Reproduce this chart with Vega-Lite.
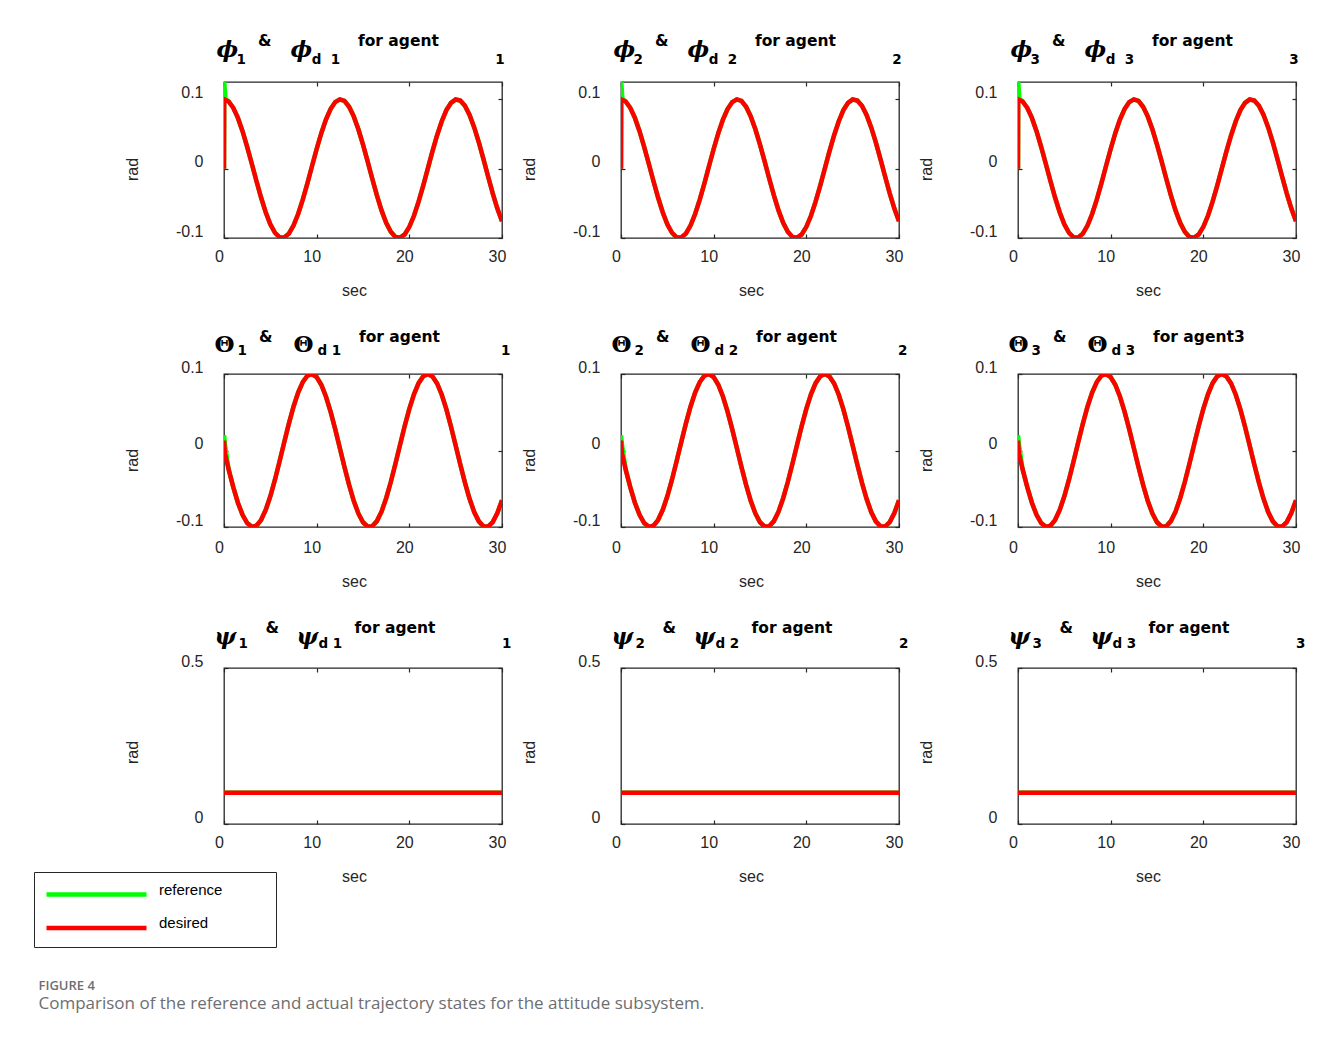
{
"padding": 33,
"spacing": 30,
"title": {"text": "FIGURE 4", "subtitle": "Comparison of the reference and actual trajectory states for the attitude subsystem.", "orient": "bottom", "anchor": "start", "frame": "bounds", "offset": 32, "dx": 5, "font": "Open Sans", "fontSize": 13, "fontWeight": 600, "color": "#6d6e71", "subtitleFont": "Open Sans", "subtitleFontSize": 17, "subtitleFontWeight": "normal", "subtitleColor": "#6d6e71", "subtitlePadding": 3},
"datasets": {
"phi": [
{"t":0,"v":0,"series":"reference"},{"t":0.02,"v":0.125,"series":"reference"},{"t":0.15,"v":0.101,"series":"reference"},
{"t":0.5,"v":0.0969,"series":"reference"},{"t":1,"v":0.0878,"series":"reference"},{"t":1.5,"v":0.0732,"series":"reference"},{"t":2,"v":0.054,"series":"reference"},{"t":2.5,"v":0.0315,"series":"reference"},{"t":3,"v":0.0071,"series":"reference"},{"t":3.5,"v":-0.0178,"series":"reference"},{"t":4,"v":-0.0416,"series":"reference"},{"t":4.5,"v":-0.0628,"series":"reference"},{"t":5,"v":-0.0801,"series":"reference"},{"t":5.5,"v":-0.0924,"series":"reference"},{"t":6,"v":-0.099,"series":"reference"},{"t":6.5,"v":-0.0994,"series":"reference"},{"t":7,"v":-0.0937,"series":"reference"},{"t":7.5,"v":-0.0821,"series":"reference"},{"t":8,"v":-0.0654,"series":"reference"},{"t":8.5,"v":-0.0446,"series":"reference"},{"t":9,"v":-0.0211,"series":"reference"},{"t":9.5,"v":0.0038,"series":"reference"},{"t":10,"v":0.0284,"series":"reference"},{"t":10.5,"v":0.0512,"series":"reference"},{"t":11,"v":0.0709,"series":"reference"},{"t":11.5,"v":0.0861,"series":"reference"},{"t":12,"v":0.096,"series":"reference"},{"t":12.5,"v":0.0999,"series":"reference"},{"t":13,"v":0.0977,"series":"reference"},{"t":13.5,"v":0.0893,"series":"reference"},{"t":14,"v":0.0754,"series":"reference"},{"t":14.5,"v":0.0568,"series":"reference"},{"t":15,"v":0.0347,"series":"reference"},{"t":15.5,"v":0.0104,"series":"reference"},{"t":16,"v":-0.0146,"series":"reference"},{"t":16.5,"v":-0.0385,"series":"reference"},{"t":17,"v":-0.0602,"series":"reference"},{"t":17.5,"v":-0.0782,"series":"reference"},{"t":18,"v":-0.0911,"series":"reference"},{"t":18.5,"v":-0.0985,"series":"reference"},{"t":19,"v":-0.0997,"series":"reference"},{"t":19.5,"v":-0.0948,"series":"reference"},{"t":20,"v":-0.0839,"series":"reference"},{"t":20.5,"v":-0.0679,"series":"reference"},{"t":21,"v":-0.0476,"series":"reference"},{"t":21.5,"v":-0.0243,"series":"reference"},{"t":22,"v":0.0004,"series":"reference"},{"t":22.5,"v":0.0252,"series":"reference"},{"t":23,"v":0.0483,"series":"reference"},{"t":23.5,"v":0.0685,"series":"reference"},{"t":24,"v":0.0844,"series":"reference"},{"t":24.5,"v":0.095,"series":"reference"},{"t":25,"v":0.0998,"series":"reference"},{"t":25.5,"v":0.0983,"series":"reference"},{"t":26,"v":0.0907,"series":"reference"},{"t":26.5,"v":0.0775,"series":"reference"},{"t":27,"v":0.0595,"series":"reference"},{"t":27.5,"v":0.0378,"series":"reference"},{"t":28,"v":0.0137,"series":"reference"},{"t":28.5,"v":-0.0113,"series":"reference"},{"t":29,"v":-0.0355,"series":"reference"},{"t":29.5,"v":-0.0575,"series":"reference"},{"t":30,"v":-0.076,"series":"reference"},
{"t":0,"v":0,"series":"desired"},{"t":0.02,"v":0.1,"series":"desired"},
{"t":0.5,"v":0.0969,"series":"desired"},{"t":1,"v":0.0878,"series":"desired"},{"t":1.5,"v":0.0732,"series":"desired"},{"t":2,"v":0.054,"series":"desired"},{"t":2.5,"v":0.0315,"series":"desired"},{"t":3,"v":0.0071,"series":"desired"},{"t":3.5,"v":-0.0178,"series":"desired"},{"t":4,"v":-0.0416,"series":"desired"},{"t":4.5,"v":-0.0628,"series":"desired"},{"t":5,"v":-0.0801,"series":"desired"},{"t":5.5,"v":-0.0924,"series":"desired"},{"t":6,"v":-0.099,"series":"desired"},{"t":6.5,"v":-0.0994,"series":"desired"},{"t":7,"v":-0.0937,"series":"desired"},{"t":7.5,"v":-0.0821,"series":"desired"},{"t":8,"v":-0.0654,"series":"desired"},{"t":8.5,"v":-0.0446,"series":"desired"},{"t":9,"v":-0.0211,"series":"desired"},{"t":9.5,"v":0.0038,"series":"desired"},{"t":10,"v":0.0284,"series":"desired"},{"t":10.5,"v":0.0512,"series":"desired"},{"t":11,"v":0.0709,"series":"desired"},{"t":11.5,"v":0.0861,"series":"desired"},{"t":12,"v":0.096,"series":"desired"},{"t":12.5,"v":0.0999,"series":"desired"},{"t":13,"v":0.0977,"series":"desired"},{"t":13.5,"v":0.0893,"series":"desired"},{"t":14,"v":0.0754,"series":"desired"},{"t":14.5,"v":0.0568,"series":"desired"},{"t":15,"v":0.0347,"series":"desired"},{"t":15.5,"v":0.0104,"series":"desired"},{"t":16,"v":-0.0146,"series":"desired"},{"t":16.5,"v":-0.0385,"series":"desired"},{"t":17,"v":-0.0602,"series":"desired"},{"t":17.5,"v":-0.0782,"series":"desired"},{"t":18,"v":-0.0911,"series":"desired"},{"t":18.5,"v":-0.0985,"series":"desired"},{"t":19,"v":-0.0997,"series":"desired"},{"t":19.5,"v":-0.0948,"series":"desired"},{"t":20,"v":-0.0839,"series":"desired"},{"t":20.5,"v":-0.0679,"series":"desired"},{"t":21,"v":-0.0476,"series":"desired"},{"t":21.5,"v":-0.0243,"series":"desired"},{"t":22,"v":0.0004,"series":"desired"},{"t":22.5,"v":0.0252,"series":"desired"},{"t":23,"v":0.0483,"series":"desired"},{"t":23.5,"v":0.0685,"series":"desired"},{"t":24,"v":0.0844,"series":"desired"},{"t":24.5,"v":0.095,"series":"desired"},{"t":25,"v":0.0998,"series":"desired"},{"t":25.5,"v":0.0983,"series":"desired"},{"t":26,"v":0.0907,"series":"desired"},{"t":26.5,"v":0.0775,"series":"desired"},{"t":27,"v":0.0595,"series":"desired"},{"t":27.5,"v":0.0378,"series":"desired"},{"t":28,"v":0.0137,"series":"desired"},{"t":28.5,"v":-0.0113,"series":"desired"},{"t":29,"v":-0.0355,"series":"desired"},{"t":29.5,"v":-0.0575,"series":"desired"},{"t":30,"v":-0.076,"series":"desired"}
],
"theta": [
{"t":0,"v":0.02,"series":"reference"},{"t":0.1,"v":0.008,"series":"reference"},
{"t":0.5,"v":-0.0247,"series":"reference"},{"t":1,"v":-0.0479,"series":"reference"},{"t":1.5,"v":-0.0682,"series":"reference"},{"t":2,"v":-0.0842,"series":"reference"},{"t":2.5,"v":-0.0949,"series":"reference"},{"t":3,"v":-0.0998,"series":"reference"},{"t":3.5,"v":-0.0984,"series":"reference"},{"t":4,"v":-0.0909,"series":"reference"},{"t":4.5,"v":-0.0778,"series":"reference"},{"t":5,"v":-0.0599,"series":"reference"},{"t":5.5,"v":-0.0382,"series":"reference"},{"t":6,"v":-0.0141,"series":"reference"},{"t":6.5,"v":0.0108,"series":"reference"},{"t":7,"v":0.0351,"series":"reference"},{"t":7.5,"v":0.0572,"series":"reference"},{"t":8,"v":0.0757,"series":"reference"},{"t":8.5,"v":0.0895,"series":"reference"},{"t":9,"v":0.0978,"series":"reference"},{"t":9.5,"v":0.0999,"series":"reference"},{"t":10,"v":0.0959,"series":"reference"},{"t":10.5,"v":0.0859,"series":"reference"},{"t":11,"v":0.0706,"series":"reference"},{"t":11.5,"v":0.0508,"series":"reference"},{"t":12,"v":0.0279,"series":"reference"},{"t":12.5,"v":0.0033,"series":"reference"},{"t":13,"v":-0.0215,"series":"reference"},{"t":13.5,"v":-0.045,"series":"reference"},{"t":14,"v":-0.0657,"series":"reference"},{"t":14.5,"v":-0.0823,"series":"reference"},{"t":15,"v":-0.0938,"series":"reference"},{"t":15.5,"v":-0.0995,"series":"reference"},{"t":16,"v":-0.0989,"series":"reference"},{"t":16.5,"v":-0.0923,"series":"reference"},{"t":17,"v":-0.0799,"series":"reference"},{"t":17.5,"v":-0.0624,"series":"reference"},{"t":18,"v":-0.0412,"series":"reference"},{"t":18.5,"v":-0.0174,"series":"reference"},{"t":19,"v":0.0075,"series":"reference"},{"t":19.5,"v":0.032,"series":"reference"},{"t":20,"v":0.0544,"series":"reference"},{"t":20.5,"v":0.0735,"series":"reference"},{"t":21,"v":0.088,"series":"reference"},{"t":21.5,"v":0.097,"series":"reference"},{"t":22,"v":0.1,"series":"reference"},{"t":22.5,"v":0.0968,"series":"reference"},{"t":23,"v":0.0876,"series":"reference"},{"t":23.5,"v":0.0729,"series":"reference"},{"t":24,"v":0.0537,"series":"reference"},{"t":24.5,"v":0.0311,"series":"reference"},{"t":25,"v":0.0066,"series":"reference"},{"t":25.5,"v":-0.0183,"series":"reference"},{"t":26,"v":-0.042,"series":"reference"},{"t":26.5,"v":-0.0632,"series":"reference"},{"t":27,"v":-0.0804,"series":"reference"},{"t":27.5,"v":-0.0926,"series":"reference"},{"t":28,"v":-0.0991,"series":"reference"},{"t":28.5,"v":-0.0994,"series":"reference"},{"t":29,"v":-0.0935,"series":"reference"},{"t":29.5,"v":-0.0818,"series":"reference"},{"t":30,"v":-0.065,"series":"reference"},
{"t":0,"v":0.013,"series":"desired"},{"t":0.1,"v":-0.004,"series":"desired"},
{"t":0.5,"v":-0.0247,"series":"desired"},{"t":1,"v":-0.0479,"series":"desired"},{"t":1.5,"v":-0.0682,"series":"desired"},{"t":2,"v":-0.0842,"series":"desired"},{"t":2.5,"v":-0.0949,"series":"desired"},{"t":3,"v":-0.0998,"series":"desired"},{"t":3.5,"v":-0.0984,"series":"desired"},{"t":4,"v":-0.0909,"series":"desired"},{"t":4.5,"v":-0.0778,"series":"desired"},{"t":5,"v":-0.0599,"series":"desired"},{"t":5.5,"v":-0.0382,"series":"desired"},{"t":6,"v":-0.0141,"series":"desired"},{"t":6.5,"v":0.0108,"series":"desired"},{"t":7,"v":0.0351,"series":"desired"},{"t":7.5,"v":0.0572,"series":"desired"},{"t":8,"v":0.0757,"series":"desired"},{"t":8.5,"v":0.0895,"series":"desired"},{"t":9,"v":0.0978,"series":"desired"},{"t":9.5,"v":0.0999,"series":"desired"},{"t":10,"v":0.0959,"series":"desired"},{"t":10.5,"v":0.0859,"series":"desired"},{"t":11,"v":0.0706,"series":"desired"},{"t":11.5,"v":0.0508,"series":"desired"},{"t":12,"v":0.0279,"series":"desired"},{"t":12.5,"v":0.0033,"series":"desired"},{"t":13,"v":-0.0215,"series":"desired"},{"t":13.5,"v":-0.045,"series":"desired"},{"t":14,"v":-0.0657,"series":"desired"},{"t":14.5,"v":-0.0823,"series":"desired"},{"t":15,"v":-0.0938,"series":"desired"},{"t":15.5,"v":-0.0995,"series":"desired"},{"t":16,"v":-0.0989,"series":"desired"},{"t":16.5,"v":-0.0923,"series":"desired"},{"t":17,"v":-0.0799,"series":"desired"},{"t":17.5,"v":-0.0624,"series":"desired"},{"t":18,"v":-0.0412,"series":"desired"},{"t":18.5,"v":-0.0174,"series":"desired"},{"t":19,"v":0.0075,"series":"desired"},{"t":19.5,"v":0.032,"series":"desired"},{"t":20,"v":0.0544,"series":"desired"},{"t":20.5,"v":0.0735,"series":"desired"},{"t":21,"v":0.088,"series":"desired"},{"t":21.5,"v":0.097,"series":"desired"},{"t":22,"v":0.1,"series":"desired"},{"t":22.5,"v":0.0968,"series":"desired"},{"t":23,"v":0.0876,"series":"desired"},{"t":23.5,"v":0.0729,"series":"desired"},{"t":24,"v":0.0537,"series":"desired"},{"t":24.5,"v":0.0311,"series":"desired"},{"t":25,"v":0.0066,"series":"desired"},{"t":25.5,"v":-0.0183,"series":"desired"},{"t":26,"v":-0.042,"series":"desired"},{"t":26.5,"v":-0.0632,"series":"desired"},{"t":27,"v":-0.0804,"series":"desired"},{"t":27.5,"v":-0.0926,"series":"desired"},{"t":28,"v":-0.0991,"series":"desired"},{"t":28.5,"v":-0.0994,"series":"desired"},{"t":29,"v":-0.0935,"series":"desired"},{"t":29.5,"v":-0.0818,"series":"desired"},{"t":30,"v":-0.065,"series":"desired"}
],
"psi": [
{"t":0,"v":0.1,"series":"reference"},{"t":10,"v":0.1,"series":"reference"},{"t":20,"v":0.1,"series":"reference"},{"t":30,"v":0.1,"series":"reference"},
{"t":0,"v":0.1,"series":"desired"},{"t":10,"v":0.1,"series":"desired"},{"t":20,"v":0.1,"series":"desired"},{"t":30,"v":0.1,"series":"desired"}
]
},
"vconcat": [
{"spacing": 13, "hconcat": [
{"width":278,"height":156,"data":{"name":"phi"},
"title":{"text":"\u200b\u00a0\u00a0\u00a0\u00a0&\u00a0\u00a0\u00a0\u00a0\u00a0\u00a0\u00a0\u00a0\u00a0\u00a0\u00a0\u00a0\u00a0\u00a0\u00a0\u00a0for agent","subtitle":"1\u00a0\u00a0\u00a0\u00a0\u00a0\u00a0\u00a0\u00a0\u00a0\u00a0\u00a0\u00a0\u00a0\u00a0d\u00a0\u00a01\u00a0\u00a0\u00a0\u00a0\u00a0\u00a0\u00a0\u00a0\u00a0\u00a0\u00a0\u00a0\u00a0\u00a0\u00a0\u00a0\u00a0\u00a0\u00a0\u00a0\u00a0\u00a0\u00a0\u00a0\u00a0\u00a0\u00a0\u00a0\u00a0\u00a0\u00a0\u00a0\u00a01","anchor":"start","frame":"group","dx":12.5,"offset":-28,"font":"DejaVu Sans","fontSize":15.5,"fontWeight":"bold","color":"#000000","subtitleFont":"DejaVu Sans","subtitleFontSize":13.5,"subtitleFontWeight":"bold","subtitleColor":"#000000","subtitlePadding":3},
"layer":[
{"transform":[{"filter":"datum.series === 'reference'"}],"mark":{"type":"line","strokeWidth":4.5,"clip":true},
"encoding":{
"x":{"field":"t","type":"quantitative","scale":{"domain":[0,30],"nice":false,"zero":false},"axis":{"orient":"bottom","values":[0,10,20,30],"labelExpr":"'' + datum.value","labelFlush":false,"labelOverlap":false,"labelPadding":14,"labelOffset":-5,"title":"sec","titleX":130,"titleY":52,"titleAlign":"center","titleBaseline":"middle","titleAngle":0}},
"y":{"field":"v","type":"quantitative","scale":{"domain":[-0.1,0.125],"nice":false,"zero":false},"axis":{"orient":"left","values":[-0.1,0,0.1],"labelExpr":"'' + datum.value","labelFlush":false,"labelOverlap":false,"labelPadding":25,"labelOffset":-7,"title":"rad","titleX":-92,"titleY":87,"titleAngle":-90,"titleAlign":"center","titleBaseline":"middle"}},
"color":{"field":"series","type":"nominal","scale":{"domain":["reference","desired"],"range":["#00ff00","#ff0000"]},"legend":{"orient":"none","legendX":-190,"legendY":790,"title":"\u200b\u00a0\u00a0\u00a0\u00a0\u00a0\u00a0\u00a0\u00a0\u00a0\u00a0\u00a0\u00a0\u00a0\u00a0\u200b","titleOrient":"right","titleFont":"Liberation Sans","titleFontSize":10,"titlePadding":5,"symbolType":"M-1,0H9","symbolSize":400,"symbolStrokeWidth":4.5,"labelOffset":90,"labelFont":"Liberation Sans","labelFontSize":15,"labelColor":"#000000","labelBaseline":"alphabetic","padding":10,"rowPadding":11.5,"strokeColor":"#262626","fillColor":"#ffffff"}}}},
{"transform":[{"filter":"datum.series === 'desired'"}],"mark":{"type":"line","strokeWidth":4.5,"clip":true},
"encoding":{
"x":{"field":"t","type":"quantitative","scale":{"domain":[0,30],"nice":false,"zero":false},"axis":{"orient":"top","values":[0,10,20,30],"labels":false,"title":"\u03d5","titleX":-8,"titleY":-26,"titleAlign":"left","titleBaseline":"alphabetic","titleAngle":0,"titleFont":"DejaVu Serif","titleFontSize":23,"titleFontWeight":"bold","titleFontStyle":"italic","titleColor":"#000000"}},
"y":{"field":"v","type":"quantitative","scale":{"domain":[-0.1,0.125],"nice":false,"zero":false},"axis":{"orient":"right","values":[-0.1,0,0.1],"labels":false,"title":"\u03d5","titleX":-212,"titleY":-26,"titleAlign":"left","titleBaseline":"alphabetic","titleAngle":0,"titleFont":"DejaVu Serif","titleFontSize":23,"titleFontWeight":"bold","titleFontStyle":"italic","titleColor":"#000000"}},
"color":{"field":"series","type":"nominal","scale":{"domain":["reference","desired"],"range":["#00ff00","#ff0000"]},"legend":{"orient":"none","legendX":-190,"legendY":790,"title":"\u200b\u00a0\u00a0\u00a0\u00a0\u00a0\u00a0\u00a0\u00a0\u00a0\u00a0\u00a0\u00a0\u00a0\u00a0\u200b","titleOrient":"right","titleFont":"Liberation Sans","titleFontSize":10,"titlePadding":5,"symbolType":"M-1,0H9","symbolSize":400,"symbolStrokeWidth":4.5,"labelOffset":90,"labelFont":"Liberation Sans","labelFontSize":15,"labelColor":"#000000","labelBaseline":"alphabetic","padding":10,"rowPadding":11.5,"strokeColor":"#262626","fillColor":"#ffffff"}}}}
],
"resolve":{"axis":{"x":"independent","y":"independent"}}},
{"width":278,"height":156,"data":{"name":"phi"},
"title":{"text":"\u200b\u00a0\u00a0\u00a0\u00a0&\u00a0\u00a0\u00a0\u00a0\u00a0\u00a0\u00a0\u00a0\u00a0\u00a0\u00a0\u00a0\u00a0\u00a0\u00a0\u00a0for agent","subtitle":"2\u00a0\u00a0\u00a0\u00a0\u00a0\u00a0\u00a0\u00a0\u00a0\u00a0\u00a0\u00a0\u00a0\u00a0d\u00a0\u00a02\u00a0\u00a0\u00a0\u00a0\u00a0\u00a0\u00a0\u00a0\u00a0\u00a0\u00a0\u00a0\u00a0\u00a0\u00a0\u00a0\u00a0\u00a0\u00a0\u00a0\u00a0\u00a0\u00a0\u00a0\u00a0\u00a0\u00a0\u00a0\u00a0\u00a0\u00a0\u00a0\u00a02","anchor":"start","frame":"group","dx":12.5,"offset":-28,"font":"DejaVu Sans","fontSize":15.5,"fontWeight":"bold","color":"#000000","subtitleFont":"DejaVu Sans","subtitleFontSize":13.5,"subtitleFontWeight":"bold","subtitleColor":"#000000","subtitlePadding":3},
"layer":[
{"transform":[{"filter":"datum.series === 'reference'"}],"mark":{"type":"line","strokeWidth":4.5,"clip":true},
"encoding":{
"x":{"field":"t","type":"quantitative","scale":{"domain":[0,30],"nice":false,"zero":false},"axis":{"orient":"bottom","values":[0,10,20,30],"labelExpr":"'' + datum.value","labelFlush":false,"labelOverlap":false,"labelPadding":14,"labelOffset":-5,"title":"sec","titleX":130,"titleY":52,"titleAlign":"center","titleBaseline":"middle","titleAngle":0}},
"y":{"field":"v","type":"quantitative","scale":{"domain":[-0.1,0.125],"nice":false,"zero":false},"axis":{"orient":"left","values":[-0.1,0,0.1],"labelExpr":"'' + datum.value","labelFlush":false,"labelOverlap":false,"labelPadding":25,"labelOffset":-7,"title":"rad","titleX":-92,"titleY":87,"titleAngle":-90,"titleAlign":"center","titleBaseline":"middle"}},
"color":{"field":"series","type":"nominal","scale":{"domain":["reference","desired"],"range":["#00ff00","#ff0000"]},"legend":{"orient":"none","legendX":-190,"legendY":790,"title":"\u200b\u00a0\u00a0\u00a0\u00a0\u00a0\u00a0\u00a0\u00a0\u00a0\u00a0\u00a0\u00a0\u00a0\u00a0\u200b","titleOrient":"right","titleFont":"Liberation Sans","titleFontSize":10,"titlePadding":5,"symbolType":"M-1,0H9","symbolSize":400,"symbolStrokeWidth":4.5,"labelOffset":90,"labelFont":"Liberation Sans","labelFontSize":15,"labelColor":"#000000","labelBaseline":"alphabetic","padding":10,"rowPadding":11.5,"strokeColor":"#262626","fillColor":"#ffffff"}}}},
{"transform":[{"filter":"datum.series === 'desired'"}],"mark":{"type":"line","strokeWidth":4.5,"clip":true},
"encoding":{
"x":{"field":"t","type":"quantitative","scale":{"domain":[0,30],"nice":false,"zero":false},"axis":{"orient":"top","values":[0,10,20,30],"labels":false,"title":"\u03d5","titleX":-8,"titleY":-26,"titleAlign":"left","titleBaseline":"alphabetic","titleAngle":0,"titleFont":"DejaVu Serif","titleFontSize":23,"titleFontWeight":"bold","titleFontStyle":"italic","titleColor":"#000000"}},
"y":{"field":"v","type":"quantitative","scale":{"domain":[-0.1,0.125],"nice":false,"zero":false},"axis":{"orient":"right","values":[-0.1,0,0.1],"labels":false,"title":"\u03d5","titleX":-212,"titleY":-26,"titleAlign":"left","titleBaseline":"alphabetic","titleAngle":0,"titleFont":"DejaVu Serif","titleFontSize":23,"titleFontWeight":"bold","titleFontStyle":"italic","titleColor":"#000000"}},
"color":{"field":"series","type":"nominal","scale":{"domain":["reference","desired"],"range":["#00ff00","#ff0000"]},"legend":{"orient":"none","legendX":-190,"legendY":790,"title":"\u200b\u00a0\u00a0\u00a0\u00a0\u00a0\u00a0\u00a0\u00a0\u00a0\u00a0\u00a0\u00a0\u00a0\u00a0\u200b","titleOrient":"right","titleFont":"Liberation Sans","titleFontSize":10,"titlePadding":5,"symbolType":"M-1,0H9","symbolSize":400,"symbolStrokeWidth":4.5,"labelOffset":90,"labelFont":"Liberation Sans","labelFontSize":15,"labelColor":"#000000","labelBaseline":"alphabetic","padding":10,"rowPadding":11.5,"strokeColor":"#262626","fillColor":"#ffffff"}}}}
],
"resolve":{"axis":{"x":"independent","y":"independent"}}},
{"width":278,"height":156,"data":{"name":"phi"},
"title":{"text":"\u200b\u00a0\u00a0\u00a0\u00a0&\u00a0\u00a0\u00a0\u00a0\u00a0\u00a0\u00a0\u00a0\u00a0\u00a0\u00a0\u00a0\u00a0\u00a0\u00a0\u00a0for agent","subtitle":"3\u00a0\u00a0\u00a0\u00a0\u00a0\u00a0\u00a0\u00a0\u00a0\u00a0\u00a0\u00a0\u00a0\u00a0d\u00a0\u00a03\u00a0\u00a0\u00a0\u00a0\u00a0\u00a0\u00a0\u00a0\u00a0\u00a0\u00a0\u00a0\u00a0\u00a0\u00a0\u00a0\u00a0\u00a0\u00a0\u00a0\u00a0\u00a0\u00a0\u00a0\u00a0\u00a0\u00a0\u00a0\u00a0\u00a0\u00a0\u00a0\u00a03","anchor":"start","frame":"group","dx":12.5,"offset":-28,"font":"DejaVu Sans","fontSize":15.5,"fontWeight":"bold","color":"#000000","subtitleFont":"DejaVu Sans","subtitleFontSize":13.5,"subtitleFontWeight":"bold","subtitleColor":"#000000","subtitlePadding":3},
"layer":[
{"transform":[{"filter":"datum.series === 'reference'"}],"mark":{"type":"line","strokeWidth":4.5,"clip":true},
"encoding":{
"x":{"field":"t","type":"quantitative","scale":{"domain":[0,30],"nice":false,"zero":false},"axis":{"orient":"bottom","values":[0,10,20,30],"labelExpr":"'' + datum.value","labelFlush":false,"labelOverlap":false,"labelPadding":14,"labelOffset":-5,"title":"sec","titleX":130,"titleY":52,"titleAlign":"center","titleBaseline":"middle","titleAngle":0}},
"y":{"field":"v","type":"quantitative","scale":{"domain":[-0.1,0.125],"nice":false,"zero":false},"axis":{"orient":"left","values":[-0.1,0,0.1],"labelExpr":"'' + datum.value","labelFlush":false,"labelOverlap":false,"labelPadding":25,"labelOffset":-7,"title":"rad","titleX":-92,"titleY":87,"titleAngle":-90,"titleAlign":"center","titleBaseline":"middle"}},
"color":{"field":"series","type":"nominal","scale":{"domain":["reference","desired"],"range":["#00ff00","#ff0000"]},"legend":{"orient":"none","legendX":-190,"legendY":790,"title":"\u200b\u00a0\u00a0\u00a0\u00a0\u00a0\u00a0\u00a0\u00a0\u00a0\u00a0\u00a0\u00a0\u00a0\u00a0\u200b","titleOrient":"right","titleFont":"Liberation Sans","titleFontSize":10,"titlePadding":5,"symbolType":"M-1,0H9","symbolSize":400,"symbolStrokeWidth":4.5,"labelOffset":90,"labelFont":"Liberation Sans","labelFontSize":15,"labelColor":"#000000","labelBaseline":"alphabetic","padding":10,"rowPadding":11.5,"strokeColor":"#262626","fillColor":"#ffffff"}}}},
{"transform":[{"filter":"datum.series === 'desired'"}],"mark":{"type":"line","strokeWidth":4.5,"clip":true},
"encoding":{
"x":{"field":"t","type":"quantitative","scale":{"domain":[0,30],"nice":false,"zero":false},"axis":{"orient":"top","values":[0,10,20,30],"labels":false,"title":"\u03d5","titleX":-8,"titleY":-26,"titleAlign":"left","titleBaseline":"alphabetic","titleAngle":0,"titleFont":"DejaVu Serif","titleFontSize":23,"titleFontWeight":"bold","titleFontStyle":"italic","titleColor":"#000000"}},
"y":{"field":"v","type":"quantitative","scale":{"domain":[-0.1,0.125],"nice":false,"zero":false},"axis":{"orient":"right","values":[-0.1,0,0.1],"labels":false,"title":"\u03d5","titleX":-212,"titleY":-26,"titleAlign":"left","titleBaseline":"alphabetic","titleAngle":0,"titleFont":"DejaVu Serif","titleFontSize":23,"titleFontWeight":"bold","titleFontStyle":"italic","titleColor":"#000000"}},
"color":{"field":"series","type":"nominal","scale":{"domain":["reference","desired"],"range":["#00ff00","#ff0000"]},"legend":{"orient":"none","legendX":-190,"legendY":790,"title":"\u200b\u00a0\u00a0\u00a0\u00a0\u00a0\u00a0\u00a0\u00a0\u00a0\u00a0\u00a0\u00a0\u00a0\u00a0\u200b","titleOrient":"right","titleFont":"Liberation Sans","titleFontSize":10,"titlePadding":5,"symbolType":"M-1,0H9","symbolSize":400,"symbolStrokeWidth":4.5,"labelOffset":90,"labelFont":"Liberation Sans","labelFontSize":15,"labelColor":"#000000","labelBaseline":"alphabetic","padding":10,"rowPadding":11.5,"strokeColor":"#262626","fillColor":"#ffffff"}}}}
],
"resolve":{"axis":{"x":"independent","y":"independent"}}}
]},
{"spacing": 9, "hconcat": [
{"width":278,"height":153,"data":{"name":"theta"},
"title":{"text":"\u200b\u00a0\u00a0\u00a0\u00a0&\u00a0\u00a0\u00a0\u00a0\u00a0\u00a0\u00a0\u00a0\u00a0\u00a0\u00a0\u00a0\u00a0\u00a0\u00a0\u00a0for agent","subtitle":"1\u00a0\u00a0\u00a0\u00a0\u00a0\u00a0\u00a0\u00a0\u00a0\u00a0\u00a0\u00a0\u00a0\u00a0\u00a0d\u00a01\u00a0\u00a0\u00a0\u00a0\u00a0\u00a0\u00a0\u00a0\u00a0\u00a0\u00a0\u00a0\u00a0\u00a0\u00a0\u00a0\u00a0\u00a0\u00a0\u00a0\u00a0\u00a0\u00a0\u00a0\u00a0\u00a0\u00a0\u00a0\u00a0\u00a0\u00a0\u00a0\u00a0\u00a01","anchor":"start","frame":"group","dx":13.5,"offset":-24,"font":"DejaVu Sans","fontSize":15.5,"fontWeight":"bold","color":"#000000","subtitleFont":"DejaVu Sans","subtitleFontSize":13.5,"subtitleFontWeight":"bold","subtitleColor":"#000000","subtitlePadding":-2},
"layer":[
{"transform":[{"filter":"datum.series === 'reference'"}],"mark":{"type":"line","strokeWidth":4.5,"clip":true},
"encoding":{
"x":{"field":"t","type":"quantitative","scale":{"domain":[0,30],"nice":false,"zero":false},"axis":{"orient":"bottom","values":[0,10,20,30],"labelExpr":"'' + datum.value","labelFlush":false,"labelOverlap":false,"labelPadding":16,"labelOffset":-5,"title":"sec","titleX":130,"titleY":54,"titleAlign":"center","titleBaseline":"middle","titleAngle":0}},
"y":{"field":"v","type":"quantitative","scale":{"domain":[-0.1,0.1],"nice":false,"zero":false},"axis":{"orient":"left","values":[-0.1,0,0.1],"labelExpr":"'' + datum.value","labelFlush":false,"labelOverlap":false,"labelPadding":25,"labelOffset":-7,"title":"rad","titleX":-92,"titleY":86,"titleAngle":-90,"titleAlign":"center","titleBaseline":"middle"}},
"color":{"field":"series","type":"nominal","scale":{"domain":["reference","desired"],"range":["#00ff00","#ff0000"]},"legend":{"orient":"none","legendX":-190,"legendY":790,"title":"\u200b\u00a0\u00a0\u00a0\u00a0\u00a0\u00a0\u00a0\u00a0\u00a0\u00a0\u00a0\u00a0\u00a0\u00a0\u200b","titleOrient":"right","titleFont":"Liberation Sans","titleFontSize":10,"titlePadding":5,"symbolType":"M-1,0H9","symbolSize":400,"symbolStrokeWidth":4.5,"labelOffset":90,"labelFont":"Liberation Sans","labelFontSize":15,"labelColor":"#000000","labelBaseline":"alphabetic","padding":10,"rowPadding":11.5,"strokeColor":"#262626","fillColor":"#ffffff"}}}},
{"transform":[{"filter":"datum.series === 'desired'"}],"mark":{"type":"line","strokeWidth":4.5,"clip":true},
"encoding":{
"x":{"field":"t","type":"quantitative","scale":{"domain":[0,30],"nice":false,"zero":false},"axis":{"orient":"top","values":[0,10,20,30],"labels":false,"title":"\u0398","titleX":-10,"titleY":-23,"titleAlign":"left","titleBaseline":"alphabetic","titleAngle":0,"titleFont":"DejaVu Serif","titleFontSize":23,"titleFontWeight":"bold","titleFontStyle":"normal","titleColor":"#000000"}},
"y":{"field":"v","type":"quantitative","scale":{"domain":[-0.1,0.1],"nice":false,"zero":false},"axis":{"orient":"right","values":[-0.1,0,0.1],"labels":false,"title":"\u0398","titleX":-209,"titleY":-23,"titleAlign":"left","titleBaseline":"alphabetic","titleAngle":0,"titleFont":"DejaVu Serif","titleFontSize":23,"titleFontWeight":"bold","titleFontStyle":"normal","titleColor":"#000000"}},
"color":{"field":"series","type":"nominal","scale":{"domain":["reference","desired"],"range":["#00ff00","#ff0000"]},"legend":{"orient":"none","legendX":-190,"legendY":790,"title":"\u200b\u00a0\u00a0\u00a0\u00a0\u00a0\u00a0\u00a0\u00a0\u00a0\u00a0\u00a0\u00a0\u00a0\u00a0\u200b","titleOrient":"right","titleFont":"Liberation Sans","titleFontSize":10,"titlePadding":5,"symbolType":"M-1,0H9","symbolSize":400,"symbolStrokeWidth":4.5,"labelOffset":90,"labelFont":"Liberation Sans","labelFontSize":15,"labelColor":"#000000","labelBaseline":"alphabetic","padding":10,"rowPadding":11.5,"strokeColor":"#262626","fillColor":"#ffffff"}}}}
],
"resolve":{"axis":{"x":"independent","y":"independent"}}},
{"width":278,"height":153,"data":{"name":"theta"},
"title":{"text":"\u200b\u00a0\u00a0\u00a0\u00a0&\u00a0\u00a0\u00a0\u00a0\u00a0\u00a0\u00a0\u00a0\u00a0\u00a0\u00a0\u00a0\u00a0\u00a0\u00a0\u00a0for agent","subtitle":"2\u00a0\u00a0\u00a0\u00a0\u00a0\u00a0\u00a0\u00a0\u00a0\u00a0\u00a0\u00a0\u00a0\u00a0\u00a0d\u00a02\u00a0\u00a0\u00a0\u00a0\u00a0\u00a0\u00a0\u00a0\u00a0\u00a0\u00a0\u00a0\u00a0\u00a0\u00a0\u00a0\u00a0\u00a0\u00a0\u00a0\u00a0\u00a0\u00a0\u00a0\u00a0\u00a0\u00a0\u00a0\u00a0\u00a0\u00a0\u00a0\u00a0\u00a02","anchor":"start","frame":"group","dx":13.5,"offset":-24,"font":"DejaVu Sans","fontSize":15.5,"fontWeight":"bold","color":"#000000","subtitleFont":"DejaVu Sans","subtitleFontSize":13.5,"subtitleFontWeight":"bold","subtitleColor":"#000000","subtitlePadding":-2},
"layer":[
{"transform":[{"filter":"datum.series === 'reference'"}],"mark":{"type":"line","strokeWidth":4.5,"clip":true},
"encoding":{
"x":{"field":"t","type":"quantitative","scale":{"domain":[0,30],"nice":false,"zero":false},"axis":{"orient":"bottom","values":[0,10,20,30],"labelExpr":"'' + datum.value","labelFlush":false,"labelOverlap":false,"labelPadding":16,"labelOffset":-5,"title":"sec","titleX":130,"titleY":54,"titleAlign":"center","titleBaseline":"middle","titleAngle":0}},
"y":{"field":"v","type":"quantitative","scale":{"domain":[-0.1,0.1],"nice":false,"zero":false},"axis":{"orient":"left","values":[-0.1,0,0.1],"labelExpr":"'' + datum.value","labelFlush":false,"labelOverlap":false,"labelPadding":25,"labelOffset":-7,"title":"rad","titleX":-92,"titleY":86,"titleAngle":-90,"titleAlign":"center","titleBaseline":"middle"}},
"color":{"field":"series","type":"nominal","scale":{"domain":["reference","desired"],"range":["#00ff00","#ff0000"]},"legend":{"orient":"none","legendX":-190,"legendY":790,"title":"\u200b\u00a0\u00a0\u00a0\u00a0\u00a0\u00a0\u00a0\u00a0\u00a0\u00a0\u00a0\u00a0\u00a0\u00a0\u200b","titleOrient":"right","titleFont":"Liberation Sans","titleFontSize":10,"titlePadding":5,"symbolType":"M-1,0H9","symbolSize":400,"symbolStrokeWidth":4.5,"labelOffset":90,"labelFont":"Liberation Sans","labelFontSize":15,"labelColor":"#000000","labelBaseline":"alphabetic","padding":10,"rowPadding":11.5,"strokeColor":"#262626","fillColor":"#ffffff"}}}},
{"transform":[{"filter":"datum.series === 'desired'"}],"mark":{"type":"line","strokeWidth":4.5,"clip":true},
"encoding":{
"x":{"field":"t","type":"quantitative","scale":{"domain":[0,30],"nice":false,"zero":false},"axis":{"orient":"top","values":[0,10,20,30],"labels":false,"title":"\u0398","titleX":-10,"titleY":-23,"titleAlign":"left","titleBaseline":"alphabetic","titleAngle":0,"titleFont":"DejaVu Serif","titleFontSize":23,"titleFontWeight":"bold","titleFontStyle":"normal","titleColor":"#000000"}},
"y":{"field":"v","type":"quantitative","scale":{"domain":[-0.1,0.1],"nice":false,"zero":false},"axis":{"orient":"right","values":[-0.1,0,0.1],"labels":false,"title":"\u0398","titleX":-209,"titleY":-23,"titleAlign":"left","titleBaseline":"alphabetic","titleAngle":0,"titleFont":"DejaVu Serif","titleFontSize":23,"titleFontWeight":"bold","titleFontStyle":"normal","titleColor":"#000000"}},
"color":{"field":"series","type":"nominal","scale":{"domain":["reference","desired"],"range":["#00ff00","#ff0000"]},"legend":{"orient":"none","legendX":-190,"legendY":790,"title":"\u200b\u00a0\u00a0\u00a0\u00a0\u00a0\u00a0\u00a0\u00a0\u00a0\u00a0\u00a0\u00a0\u00a0\u00a0\u200b","titleOrient":"right","titleFont":"Liberation Sans","titleFontSize":10,"titlePadding":5,"symbolType":"M-1,0H9","symbolSize":400,"symbolStrokeWidth":4.5,"labelOffset":90,"labelFont":"Liberation Sans","labelFontSize":15,"labelColor":"#000000","labelBaseline":"alphabetic","padding":10,"rowPadding":11.5,"strokeColor":"#262626","fillColor":"#ffffff"}}}}
],
"resolve":{"axis":{"x":"independent","y":"independent"}}},
{"width":278,"height":153,"data":{"name":"theta"},
"title":{"text":"\u200b\u00a0\u00a0\u00a0\u00a0&\u00a0\u00a0\u00a0\u00a0\u00a0\u00a0\u00a0\u00a0\u00a0\u00a0\u00a0\u00a0\u00a0\u00a0\u00a0\u00a0for agent3","subtitle":"3\u00a0\u00a0\u00a0\u00a0\u00a0\u00a0\u00a0\u00a0\u00a0\u00a0\u00a0\u00a0\u00a0\u00a0\u00a0d\u00a03","anchor":"start","frame":"group","dx":13.5,"offset":-24,"font":"DejaVu Sans","fontSize":15.5,"fontWeight":"bold","color":"#000000","subtitleFont":"DejaVu Sans","subtitleFontSize":13.5,"subtitleFontWeight":"bold","subtitleColor":"#000000","subtitlePadding":-2},
"layer":[
{"transform":[{"filter":"datum.series === 'reference'"}],"mark":{"type":"line","strokeWidth":4.5,"clip":true},
"encoding":{
"x":{"field":"t","type":"quantitative","scale":{"domain":[0,30],"nice":false,"zero":false},"axis":{"orient":"bottom","values":[0,10,20,30],"labelExpr":"'' + datum.value","labelFlush":false,"labelOverlap":false,"labelPadding":16,"labelOffset":-5,"title":"sec","titleX":130,"titleY":54,"titleAlign":"center","titleBaseline":"middle","titleAngle":0}},
"y":{"field":"v","type":"quantitative","scale":{"domain":[-0.1,0.1],"nice":false,"zero":false},"axis":{"orient":"left","values":[-0.1,0,0.1],"labelExpr":"'' + datum.value","labelFlush":false,"labelOverlap":false,"labelPadding":25,"labelOffset":-7,"title":"rad","titleX":-92,"titleY":86,"titleAngle":-90,"titleAlign":"center","titleBaseline":"middle"}},
"color":{"field":"series","type":"nominal","scale":{"domain":["reference","desired"],"range":["#00ff00","#ff0000"]},"legend":{"orient":"none","legendX":-190,"legendY":790,"title":"\u200b\u00a0\u00a0\u00a0\u00a0\u00a0\u00a0\u00a0\u00a0\u00a0\u00a0\u00a0\u00a0\u00a0\u00a0\u200b","titleOrient":"right","titleFont":"Liberation Sans","titleFontSize":10,"titlePadding":5,"symbolType":"M-1,0H9","symbolSize":400,"symbolStrokeWidth":4.5,"labelOffset":90,"labelFont":"Liberation Sans","labelFontSize":15,"labelColor":"#000000","labelBaseline":"alphabetic","padding":10,"rowPadding":11.5,"strokeColor":"#262626","fillColor":"#ffffff"}}}},
{"transform":[{"filter":"datum.series === 'desired'"}],"mark":{"type":"line","strokeWidth":4.5,"clip":true},
"encoding":{
"x":{"field":"t","type":"quantitative","scale":{"domain":[0,30],"nice":false,"zero":false},"axis":{"orient":"top","values":[0,10,20,30],"labels":false,"title":"\u0398","titleX":-10,"titleY":-23,"titleAlign":"left","titleBaseline":"alphabetic","titleAngle":0,"titleFont":"DejaVu Serif","titleFontSize":23,"titleFontWeight":"bold","titleFontStyle":"normal","titleColor":"#000000"}},
"y":{"field":"v","type":"quantitative","scale":{"domain":[-0.1,0.1],"nice":false,"zero":false},"axis":{"orient":"right","values":[-0.1,0,0.1],"labels":false,"title":"\u0398","titleX":-209,"titleY":-23,"titleAlign":"left","titleBaseline":"alphabetic","titleAngle":0,"titleFont":"DejaVu Serif","titleFontSize":23,"titleFontWeight":"bold","titleFontStyle":"normal","titleColor":"#000000"}},
"color":{"field":"series","type":"nominal","scale":{"domain":["reference","desired"],"range":["#00ff00","#ff0000"]},"legend":{"orient":"none","legendX":-190,"legendY":790,"title":"\u200b\u00a0\u00a0\u00a0\u00a0\u00a0\u00a0\u00a0\u00a0\u00a0\u00a0\u00a0\u00a0\u00a0\u00a0\u200b","titleOrient":"right","titleFont":"Liberation Sans","titleFontSize":10,"titlePadding":5,"symbolType":"M-1,0H9","symbolSize":400,"symbolStrokeWidth":4.5,"labelOffset":90,"labelFont":"Liberation Sans","labelFontSize":15,"labelColor":"#000000","labelBaseline":"alphabetic","padding":10,"rowPadding":11.5,"strokeColor":"#262626","fillColor":"#ffffff"}}}}
],
"resolve":{"axis":{"x":"independent","y":"independent"}}}
]},
{"spacing": 8, "hconcat": [
{"width":278,"height":156,"data":{"name":"psi"},
"title":{"text":"\u200b\u00a0\u00a0\u00a0\u00a0\u00a0&\u00a0\u00a0\u00a0\u00a0\u00a0\u00a0\u00a0\u00a0\u00a0\u00a0\u00a0\u00a0\u00a0\u00a0for agent","subtitle":"1\u00a0\u00a0\u00a0\u00a0\u00a0\u00a0\u00a0\u00a0\u00a0\u00a0\u00a0\u00a0\u00a0\u00a0\u00a0d\u00a01\u00a0\u00a0\u00a0\u00a0\u00a0\u00a0\u00a0\u00a0\u00a0\u00a0\u00a0\u00a0\u00a0\u00a0\u00a0\u00a0\u00a0\u00a0\u00a0\u00a0\u00a0\u00a0\u00a0\u00a0\u00a0\u00a0\u00a0\u00a0\u00a0\u00a0\u00a0\u00a0\u00a0\u00a01","anchor":"start","frame":"group","dx":14.5,"offset":-25,"font":"DejaVu Sans","fontSize":15.5,"fontWeight":"bold","color":"#000000","subtitleFont":"DejaVu Sans","subtitleFontSize":13.5,"subtitleFontWeight":"bold","subtitleColor":"#000000","subtitlePadding":0},
"layer":[
{"transform":[{"filter":"datum.series === 'reference'"}],"mark":{"type":"line","strokeWidth":4.5,"clip":true},
"encoding":{
"x":{"field":"t","type":"quantitative","scale":{"domain":[0,30],"nice":false,"zero":false},"axis":{"orient":"bottom","values":[0,10,20,30],"labelExpr":"'' + datum.value","labelFlush":false,"labelOverlap":false,"labelPadding":14,"labelOffset":-5,"title":"sec","titleX":130,"titleY":52,"titleAlign":"center","titleBaseline":"middle","titleAngle":0}},
"y":{"field":"v","type":"quantitative","scale":{"domain":[0,0.5],"nice":false,"zero":false},"axis":{"orient":"left","values":[0,0.5],"labelExpr":"'' + datum.value","labelFlush":false,"labelOverlap":false,"labelPadding":25,"labelOffset":-7,"title":"rad","titleX":-92,"titleY":84,"titleAngle":-90,"titleAlign":"center","titleBaseline":"middle"}},
"color":{"field":"series","type":"nominal","scale":{"domain":["reference","desired"],"range":["#00ff00","#ff0000"]},"legend":{"orient":"none","legendX":-190,"legendY":790,"title":"\u200b\u00a0\u00a0\u00a0\u00a0\u00a0\u00a0\u00a0\u00a0\u00a0\u00a0\u00a0\u00a0\u00a0\u00a0\u200b","titleOrient":"right","titleFont":"Liberation Sans","titleFontSize":10,"titlePadding":5,"symbolType":"M-1,0H9","symbolSize":400,"symbolStrokeWidth":4.5,"labelOffset":90,"labelFont":"Liberation Sans","labelFontSize":15,"labelColor":"#000000","labelBaseline":"alphabetic","padding":10,"rowPadding":11.5,"strokeColor":"#262626","fillColor":"#ffffff"}}}},
{"transform":[{"filter":"datum.series === 'desired'"}],"mark":{"type":"line","strokeWidth":4.5,"clip":true},
"encoding":{
"x":{"field":"t","type":"quantitative","scale":{"domain":[0,30],"nice":false,"zero":false},"axis":{"orient":"top","values":[0,10,20,30],"labels":false,"title":"\u03c8","titleX":-10,"titleY":-25,"titleAlign":"left","titleBaseline":"alphabetic","titleAngle":0,"titleFont":"DejaVu Serif","titleFontSize":23,"titleFontWeight":"bold","titleFontStyle":"italic","titleColor":"#000000"}},
"y":{"field":"v","type":"quantitative","scale":{"domain":[0,0.5],"nice":false,"zero":false},"axis":{"orient":"right","values":[0,0.5],"labels":false,"title":"\u03c8","titleX":-206,"titleY":-25,"titleAlign":"left","titleBaseline":"alphabetic","titleAngle":0,"titleFont":"DejaVu Serif","titleFontSize":23,"titleFontWeight":"bold","titleFontStyle":"italic","titleColor":"#000000"}},
"color":{"field":"series","type":"nominal","scale":{"domain":["reference","desired"],"range":["#00ff00","#ff0000"]},"legend":{"orient":"none","legendX":-190,"legendY":790,"title":"\u200b\u00a0\u00a0\u00a0\u00a0\u00a0\u00a0\u00a0\u00a0\u00a0\u00a0\u00a0\u00a0\u00a0\u00a0\u200b","titleOrient":"right","titleFont":"Liberation Sans","titleFontSize":10,"titlePadding":5,"symbolType":"M-1,0H9","symbolSize":400,"symbolStrokeWidth":4.5,"labelOffset":90,"labelFont":"Liberation Sans","labelFontSize":15,"labelColor":"#000000","labelBaseline":"alphabetic","padding":10,"rowPadding":11.5,"strokeColor":"#262626","fillColor":"#ffffff"}}}}
],
"resolve":{"axis":{"x":"independent","y":"independent"}}},
{"width":278,"height":156,"data":{"name":"psi"},
"title":{"text":"\u200b\u00a0\u00a0\u00a0\u00a0\u00a0&\u00a0\u00a0\u00a0\u00a0\u00a0\u00a0\u00a0\u00a0\u00a0\u00a0\u00a0\u00a0\u00a0\u00a0for agent","subtitle":"2\u00a0\u00a0\u00a0\u00a0\u00a0\u00a0\u00a0\u00a0\u00a0\u00a0\u00a0\u00a0\u00a0\u00a0\u00a0d\u00a02\u00a0\u00a0\u00a0\u00a0\u00a0\u00a0\u00a0\u00a0\u00a0\u00a0\u00a0\u00a0\u00a0\u00a0\u00a0\u00a0\u00a0\u00a0\u00a0\u00a0\u00a0\u00a0\u00a0\u00a0\u00a0\u00a0\u00a0\u00a0\u00a0\u00a0\u00a0\u00a0\u00a0\u00a02","anchor":"start","frame":"group","dx":14.5,"offset":-25,"font":"DejaVu Sans","fontSize":15.5,"fontWeight":"bold","color":"#000000","subtitleFont":"DejaVu Sans","subtitleFontSize":13.5,"subtitleFontWeight":"bold","subtitleColor":"#000000","subtitlePadding":0},
"layer":[
{"transform":[{"filter":"datum.series === 'reference'"}],"mark":{"type":"line","strokeWidth":4.5,"clip":true},
"encoding":{
"x":{"field":"t","type":"quantitative","scale":{"domain":[0,30],"nice":false,"zero":false},"axis":{"orient":"bottom","values":[0,10,20,30],"labelExpr":"'' + datum.value","labelFlush":false,"labelOverlap":false,"labelPadding":14,"labelOffset":-5,"title":"sec","titleX":130,"titleY":52,"titleAlign":"center","titleBaseline":"middle","titleAngle":0}},
"y":{"field":"v","type":"quantitative","scale":{"domain":[0,0.5],"nice":false,"zero":false},"axis":{"orient":"left","values":[0,0.5],"labelExpr":"'' + datum.value","labelFlush":false,"labelOverlap":false,"labelPadding":25,"labelOffset":-7,"title":"rad","titleX":-92,"titleY":84,"titleAngle":-90,"titleAlign":"center","titleBaseline":"middle"}},
"color":{"field":"series","type":"nominal","scale":{"domain":["reference","desired"],"range":["#00ff00","#ff0000"]},"legend":{"orient":"none","legendX":-190,"legendY":790,"title":"\u200b\u00a0\u00a0\u00a0\u00a0\u00a0\u00a0\u00a0\u00a0\u00a0\u00a0\u00a0\u00a0\u00a0\u00a0\u200b","titleOrient":"right","titleFont":"Liberation Sans","titleFontSize":10,"titlePadding":5,"symbolType":"M-1,0H9","symbolSize":400,"symbolStrokeWidth":4.5,"labelOffset":90,"labelFont":"Liberation Sans","labelFontSize":15,"labelColor":"#000000","labelBaseline":"alphabetic","padding":10,"rowPadding":11.5,"strokeColor":"#262626","fillColor":"#ffffff"}}}},
{"transform":[{"filter":"datum.series === 'desired'"}],"mark":{"type":"line","strokeWidth":4.5,"clip":true},
"encoding":{
"x":{"field":"t","type":"quantitative","scale":{"domain":[0,30],"nice":false,"zero":false},"axis":{"orient":"top","values":[0,10,20,30],"labels":false,"title":"\u03c8","titleX":-10,"titleY":-25,"titleAlign":"left","titleBaseline":"alphabetic","titleAngle":0,"titleFont":"DejaVu Serif","titleFontSize":23,"titleFontWeight":"bold","titleFontStyle":"italic","titleColor":"#000000"}},
"y":{"field":"v","type":"quantitative","scale":{"domain":[0,0.5],"nice":false,"zero":false},"axis":{"orient":"right","values":[0,0.5],"labels":false,"title":"\u03c8","titleX":-206,"titleY":-25,"titleAlign":"left","titleBaseline":"alphabetic","titleAngle":0,"titleFont":"DejaVu Serif","titleFontSize":23,"titleFontWeight":"bold","titleFontStyle":"italic","titleColor":"#000000"}},
"color":{"field":"series","type":"nominal","scale":{"domain":["reference","desired"],"range":["#00ff00","#ff0000"]},"legend":{"orient":"none","legendX":-190,"legendY":790,"title":"\u200b\u00a0\u00a0\u00a0\u00a0\u00a0\u00a0\u00a0\u00a0\u00a0\u00a0\u00a0\u00a0\u00a0\u00a0\u200b","titleOrient":"right","titleFont":"Liberation Sans","titleFontSize":10,"titlePadding":5,"symbolType":"M-1,0H9","symbolSize":400,"symbolStrokeWidth":4.5,"labelOffset":90,"labelFont":"Liberation Sans","labelFontSize":15,"labelColor":"#000000","labelBaseline":"alphabetic","padding":10,"rowPadding":11.5,"strokeColor":"#262626","fillColor":"#ffffff"}}}}
],
"resolve":{"axis":{"x":"independent","y":"independent"}}},
{"width":278,"height":156,"data":{"name":"psi"},
"title":{"text":"\u200b\u00a0\u00a0\u00a0\u00a0\u00a0&\u00a0\u00a0\u00a0\u00a0\u00a0\u00a0\u00a0\u00a0\u00a0\u00a0\u00a0\u00a0\u00a0\u00a0for agent","subtitle":"3\u00a0\u00a0\u00a0\u00a0\u00a0\u00a0\u00a0\u00a0\u00a0\u00a0\u00a0\u00a0\u00a0\u00a0\u00a0d\u00a03\u00a0\u00a0\u00a0\u00a0\u00a0\u00a0\u00a0\u00a0\u00a0\u00a0\u00a0\u00a0\u00a0\u00a0\u00a0\u00a0\u00a0\u00a0\u00a0\u00a0\u00a0\u00a0\u00a0\u00a0\u00a0\u00a0\u00a0\u00a0\u00a0\u00a0\u00a0\u00a0\u00a0\u00a03","anchor":"start","frame":"group","dx":14.5,"offset":-25,"font":"DejaVu Sans","fontSize":15.5,"fontWeight":"bold","color":"#000000","subtitleFont":"DejaVu Sans","subtitleFontSize":13.5,"subtitleFontWeight":"bold","subtitleColor":"#000000","subtitlePadding":0},
"layer":[
{"transform":[{"filter":"datum.series === 'reference'"}],"mark":{"type":"line","strokeWidth":4.5,"clip":true},
"encoding":{
"x":{"field":"t","type":"quantitative","scale":{"domain":[0,30],"nice":false,"zero":false},"axis":{"orient":"bottom","values":[0,10,20,30],"labelExpr":"'' + datum.value","labelFlush":false,"labelOverlap":false,"labelPadding":14,"labelOffset":-5,"title":"sec","titleX":130,"titleY":52,"titleAlign":"center","titleBaseline":"middle","titleAngle":0}},
"y":{"field":"v","type":"quantitative","scale":{"domain":[0,0.5],"nice":false,"zero":false},"axis":{"orient":"left","values":[0,0.5],"labelExpr":"'' + datum.value","labelFlush":false,"labelOverlap":false,"labelPadding":25,"labelOffset":-7,"title":"rad","titleX":-92,"titleY":84,"titleAngle":-90,"titleAlign":"center","titleBaseline":"middle"}},
"color":{"field":"series","type":"nominal","scale":{"domain":["reference","desired"],"range":["#00ff00","#ff0000"]},"legend":{"orient":"none","legendX":-190,"legendY":790,"title":"\u200b\u00a0\u00a0\u00a0\u00a0\u00a0\u00a0\u00a0\u00a0\u00a0\u00a0\u00a0\u00a0\u00a0\u00a0\u200b","titleOrient":"right","titleFont":"Liberation Sans","titleFontSize":10,"titlePadding":5,"symbolType":"M-1,0H9","symbolSize":400,"symbolStrokeWidth":4.5,"labelOffset":90,"labelFont":"Liberation Sans","labelFontSize":15,"labelColor":"#000000","labelBaseline":"alphabetic","padding":10,"rowPadding":11.5,"strokeColor":"#262626","fillColor":"#ffffff"}}}},
{"transform":[{"filter":"datum.series === 'desired'"}],"mark":{"type":"line","strokeWidth":4.5,"clip":true},
"encoding":{
"x":{"field":"t","type":"quantitative","scale":{"domain":[0,30],"nice":false,"zero":false},"axis":{"orient":"top","values":[0,10,20,30],"labels":false,"title":"\u03c8","titleX":-10,"titleY":-25,"titleAlign":"left","titleBaseline":"alphabetic","titleAngle":0,"titleFont":"DejaVu Serif","titleFontSize":23,"titleFontWeight":"bold","titleFontStyle":"italic","titleColor":"#000000"}},
"y":{"field":"v","type":"quantitative","scale":{"domain":[0,0.5],"nice":false,"zero":false},"axis":{"orient":"right","values":[0,0.5],"labels":false,"title":"\u03c8","titleX":-206,"titleY":-25,"titleAlign":"left","titleBaseline":"alphabetic","titleAngle":0,"titleFont":"DejaVu Serif","titleFontSize":23,"titleFontWeight":"bold","titleFontStyle":"italic","titleColor":"#000000"}},
"color":{"field":"series","type":"nominal","scale":{"domain":["reference","desired"],"range":["#00ff00","#ff0000"]},"legend":{"orient":"none","legendX":-190,"legendY":790,"title":"\u200b\u00a0\u00a0\u00a0\u00a0\u00a0\u00a0\u00a0\u00a0\u00a0\u00a0\u00a0\u00a0\u00a0\u00a0\u200b","titleOrient":"right","titleFont":"Liberation Sans","titleFontSize":10,"titlePadding":5,"symbolType":"M-1,0H9","symbolSize":400,"symbolStrokeWidth":4.5,"labelOffset":90,"labelFont":"Liberation Sans","labelFontSize":15,"labelColor":"#000000","labelBaseline":"alphabetic","padding":10,"rowPadding":11.5,"strokeColor":"#262626","fillColor":"#ffffff"}}}}
],
"resolve":{"axis":{"x":"independent","y":"independent"}}}
]}
],
"config": {
"view": {"stroke": "#262626", "strokeWidth": 1.3},
"axis": {"grid": false, "domain": false, "tickColor": "#262626", "tickWidth": 1.2, "tickSize": -4, "labelFont": "Liberation Sans", "labelFontSize": 16, "labelColor": "#262626", "titleFont": "Liberation Sans", "titleFontSize": 16, "titleFontWeight": "normal", "titleColor": "#262626", "titleLimit": 1000}
}
}
